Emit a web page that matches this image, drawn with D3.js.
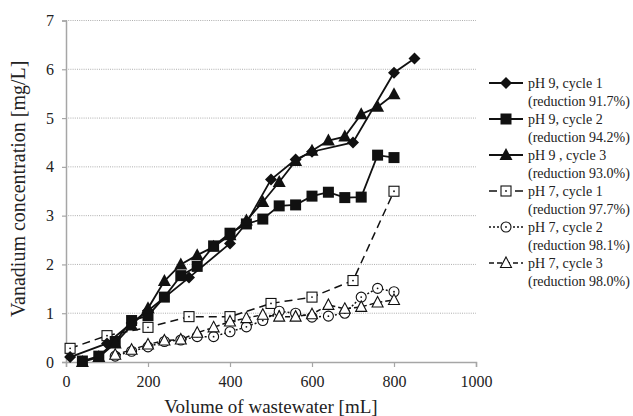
<!DOCTYPE html>
<html>
<head>
<meta charset="utf-8">
<script src="https://cdn.jsdelivr.net/npm/d3@7"></script>
<style>
  body { margin: 0; background: #fff; }
  text { font-family: "Liberation Serif", "Times New Roman", serif; }
</style>
</head>
<body>
<div id="chart"></div>
<script>
// volume [mL] and vanadium [mg/L], one pair list per series
const ph9c1 = [[10,0.1],[100,0.38],[160,0.8],[200,1.05],[300,1.73],[400,2.43],[440,2.85],[500,3.74],[560,4.15],[600,4.31],[700,4.5],[800,5.93],[850,6.22]];
const ph9c2 = [[40,0.02],[80,0.12],[120,0.42],[160,0.85],[200,0.95],[240,1.33],[280,1.77],[320,1.96],[360,2.38],[400,2.64],[440,2.83],[480,2.93],[520,3.2],[560,3.22],[600,3.4],[640,3.48],[680,3.37],[720,3.38],[760,4.24],[800,4.19]];
const ph9c3 = [[40,0.0],[80,0.1],[120,0.38],[160,0.75],[200,1.1],[240,1.66],[280,2.0],[320,2.19],[360,2.36],[400,2.6],[440,2.9],[480,3.28],[520,3.69],[560,4.12],[600,4.33],[640,4.54],[680,4.62],[720,5.08],[760,5.23],[800,5.49]];
const ph7c1 = [[10,0.28],[100,0.54],[200,0.71],[300,0.93],[400,0.93],[500,1.2],[600,1.33],[700,1.67],[800,3.5]];
const ph7c2 = [[120,0.12],[160,0.22],[200,0.31],[240,0.42],[280,0.45],[320,0.52],[360,0.52],[400,0.62],[440,0.72],[480,0.85],[520,1.04],[560,1.0],[600,0.92],[640,0.94],[680,1.0],[720,1.33],[760,1.51],[800,1.44]];
const ph7c3 = [[120,0.15],[160,0.25],[200,0.36],[240,0.44],[280,0.46],[320,0.6],[360,0.71],[400,0.83],[440,0.9],[480,0.97],[520,0.93],[560,0.93],[600,0.98],[640,1.17],[680,1.09],[720,1.13],[760,1.22],[800,1.27]];

const seriesNames = ["pH 9, cycle 1","pH 9, cycle 2","pH 9 , cycle 3","pH 7, cycle 1","pH 7, cycle 2","pH 7, cycle 3"];
const reductions = ["(reduction 91.7%)","(reduction 94.2%)","(reduction 93.0%)","(reduction 97.7%)","(reduction 98.1%)","(reduction 98.0%)"];
const xTicks = [0,200,400,600,800,1000];
const yTicks = [0,1,2,3,4,5,6,7];

const series = [
  { name: seriesNames[0], red: reductions[0], data: ph9c1, marker: "diamond", dash: null },
  { name: seriesNames[1], red: reductions[1], data: ph9c2, marker: "square", dash: null },
  { name: seriesNames[2], red: reductions[2], data: ph9c3, marker: "triangle", dash: null },
  { name: seriesNames[3], red: reductions[3], data: ph7c1, marker: "osquare", dash: "8,5" },
  { name: seriesNames[4], red: reductions[4], data: ph7c2, marker: "ocircle", dash: "2,2" },
  { name: seriesNames[5], red: reductions[5], data: ph7c3, marker: "otriangle", dash: "5,3" }
];

const width = 633, height = 416;
const margin = { left: 66, right: 157, top: 20.5, bottom: 54 };

const x = d3.scaleLinear().domain([0, 1000]).range([margin.left, width - margin.right]);
const y = d3.scaleLinear().domain([0, 7]).range([height - margin.bottom, margin.top]);

const svg = d3.select("#chart").append("svg").attr("width", width).attr("height", height);

// gridlines
svg.append("g")
  .selectAll("line")
  .data(yTicks.filter(d => d > 0))
  .join("line")
  .attr("x1", x(0)).attr("x2", x(1000))
  .attr("y1", d => y(d)).attr("y2", d => y(d))
  .attr("stroke", "#999").attr("stroke-width", 0.8).attr("stroke-dasharray", "1,1.2");

// axes
const xAxis = svg.append("g")
  .attr("transform", `translate(0,${y(0)})`)
  .call(d3.axisBottom(x).tickValues(xTicks).tickSize(5).tickPadding(9).tickFormat(d3.format("d")));
const yAxis = svg.append("g")
  .attr("transform", `translate(${x(0)},0)`)
  .call(d3.axisLeft(y).tickValues(yTicks).tickSize(4).tickPadding(8).tickFormat(d3.format("d")));
[xAxis, yAxis].forEach(a => {
  a.select(".domain").attr("stroke", "#a6a6a6").attr("stroke-width", 1.5);
  a.selectAll(".tick line").attr("stroke", "#a6a6a6").attr("stroke-width", 1.2);
  a.selectAll("text").attr("font-family", "Liberation Serif").attr("font-size", 16).attr("fill", "#222");
});

svg.append("text")
  .attr("x", x(500)).attr("y", 413)
  .attr("text-anchor", "middle").attr("font-size", 19).attr("fill", "#222")
  .text("Volume of wastewater [mL]");
svg.append("text")
  .attr("transform", `translate(25,${y(3.55)}) rotate(-90)`)
  .attr("text-anchor", "middle").attr("font-size", 20).attr("fill", "#222")
  .text("Vanadium concentration [mg/L]");

function drawMarker(g, type) {
  if (type === "diamond") {
    g.append("path").attr("d", "M0,-6L6,0L0,6L-6,0Z").attr("fill", "#111");
  } else if (type === "square") {
    g.append("rect").attr("x", -5.5).attr("y", -5.5).attr("width", 11).attr("height", 11).attr("fill", "#111");
  } else if (type === "triangle") {
    g.append("path").attr("d", "M0,-7L6.5,5L-6.5,5Z").attr("fill", "#111");
  } else if (type === "osquare") {
    g.append("rect").attr("x", -5).attr("y", -5).attr("width", 10).attr("height", 10)
      .attr("fill", "#fff").attr("stroke", "#111").attr("stroke-width", 1.1);
    g.append("circle").attr("r", 0.9).attr("fill", "#111");
  } else if (type === "ocircle") {
    g.append("circle").attr("r", 5).attr("fill", "#fff").attr("stroke", "#111").attr("stroke-width", 1.1);
    g.append("circle").attr("r", 0.9).attr("fill", "#111");
  } else if (type === "otriangle") {
    g.append("path").attr("d", "M0,-6L5.5,4.5L-5.5,4.5Z")
      .attr("fill", "#fff").attr("stroke", "#111").attr("stroke-width", 1.1);
  }
}

const line = d3.line().x(d => x(d[0])).y(d => y(d[1]));

// draw pH 7 first, then pH 9 on top
const order = [3, 4, 5, 0, 1, 2];
order.forEach(i => {
  const s = series[i];
  svg.append("path")
    .datum(s.data)
    .attr("d", line)
    .attr("fill", "none")
    .attr("stroke", "#111")
    .attr("stroke-width", s.dash ? 1.5 : 1.8)
    .attr("stroke-dasharray", s.dash);
  svg.append("g")
    .selectAll("g")
    .data(s.data)
    .join("g")
    .attr("transform", d => `translate(${x(d[0])},${y(d[1])})`)
    .each(function () { drawMarker(d3.select(this), s.marker); });
});

// legend
const legend = svg.append("g");
series.forEach((s, i) => {
  const ly = 83 + i * 36;
  const g = legend.append("g").attr("transform", `translate(0,${ly})`);
  g.append("line").attr("x1", 489).attr("x2", 523).attr("y1", 0).attr("y2", 0)
    .attr("stroke", "#111").attr("stroke-width", s.dash ? 1.5 : 1.8).attr("stroke-dasharray", s.dash);
  const m = g.append("g").attr("transform", "translate(506,0)");
  drawMarker(m, s.marker);
  g.append("text").attr("x", 528).attr("y", 5).attr("font-size", 14).attr("fill", "#222").text(s.name);
  g.append("text").attr("x", 528).attr("y", 22.5).attr("font-size", 14).attr("fill", "#222").text(s.red);
});
</script>
</body>
</html>
